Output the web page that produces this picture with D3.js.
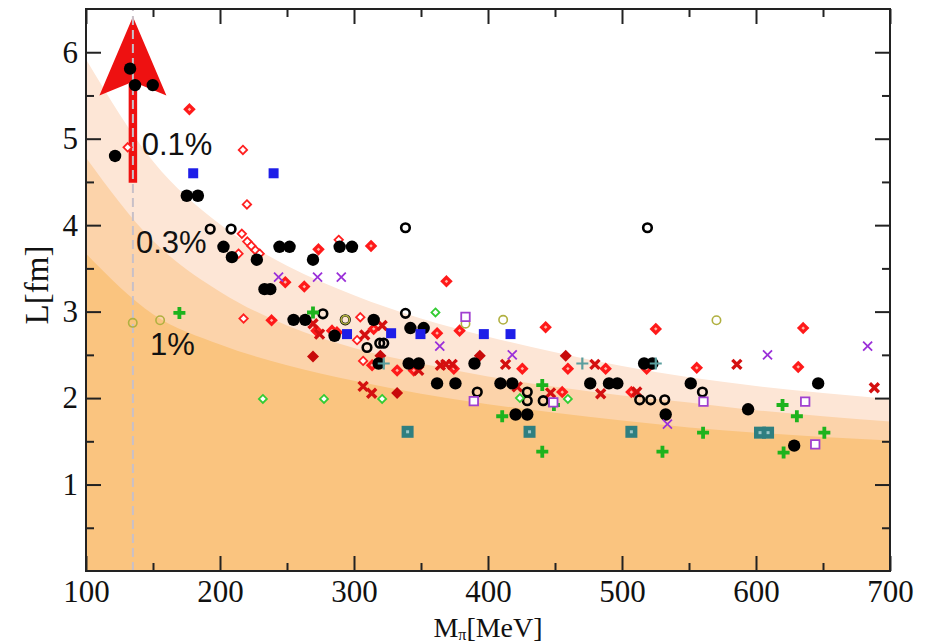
<!DOCTYPE html>
<html><head><meta charset="utf-8">
<script src="https://cdn.jsdelivr.net/npm/d3@7"></script>
<style>html,body{margin:0;padding:0;background:#fff;} svg{display:block;}</style>
</head><body>
<svg id="chart" width="930" height="644"></svg>
<script>
// ---------- axis ticks ----------
const xTicks = [100, 200, 300, 400, 500, 600, 700];
const xMinorTicks = [150, 250, 350, 450, 550, 650];
const yTicks = [1, 2, 3, 4, 5, 6];
const yMinorTicks = [0.5, 1.5, 2.5, 3.5, 4.5, 5.5];

// ---------- finite-volume bands (L in fm vs M_pi in MeV) ----------
const bandM   = [100, 150, 200, 250, 300, 350, 400, 450, 500, 550, 600, 650, 700];
const band01  = [5.92, 4.74, 4.01, 3.53, 3.19, 2.92, 2.71, 2.53, 2.37, 2.24, 2.14, 2.06, 1.99];
const band03  = [4.78, 3.82, 3.23, 2.84, 2.58, 2.40, 2.25, 2.13, 2.03, 1.95, 1.86, 1.79, 1.73];
const band1   = [3.67, 2.97, 2.62, 2.38, 2.20, 2.05, 1.93, 1.83, 1.74, 1.66, 1.60, 1.55, 1.51];
const pctLabels = ["0.1%", "0.3%", "1%"];
const pctM = [141.6, 137.3, 147.8];
const pctL = [4.81, 3.68, 2.50];

// physical pion mass marker
const physM = 135;
const arrowTail = 4.49, arrowTip = 6.41, arrowBarb = 5.50, arrowNotch = 5.66, arrowHalf = 25;

// ---------- simulation points [M_pi, L] ----------
const redThinDiamonds = [[131.1,4.90],[217.1,4.87],[220.1,4.24],[216.3,3.90],[220.4,3.81],[223.4,3.76],[226.4,3.71],[229.6,3.67],[213.8,3.67],[217.6,2.92],[288.6,3.83],[304.7,2.935],[302.3,2.67],[306.8,2.43]];
const redThickDiamonds = [[177.2,5.34],[248.7,3.34],[262.9,3.29],[238.5,2.90],[273.5,3.72],[312.7,3.76],[369,3.35],[362,2.75],[378.8,2.78],[443,2.82],[332.2,2.32],[344.6,2.32],[374.5,2.34],[425.6,2.34],[459.6,2.34],[487.8,2.34],[525.2,2.80],[555.8,2.35],[635.2,2.81],[631.5,2.36],[507,2.07],[455.4,2.07],[518.4,2.34],[272,2.78],[283.6,2.78],[287.3,2.76],[314.7,2.80],[313.5,2.38]];
const darkRedDiamonds = [[269.4,2.48],[332.2,2.06],[319.7,2.49],[393.9,2.49],[458,2.49]];
const darkRedCrosses = [[269.4,2.86],[274.3,2.74],[308,2.73],[321,2.84],[306.8,2.135],[313.2,2.055],[348.3,2.32],[364.5,2.38],[368.5,2.39],[373.3,2.39],[413.1,2.39],[421.8,2.13],[446.7,2.06],[484.1,2.05],[479.8,2.39],[511,2.07],[585.7,2.39],[688.3,2.12]];
const blackFilled = [[121.7,4.80],[132.9,5.81],[136.6,5.62],[149.8,5.62],[175.2,4.34],[183.5,4.34],[202.6,3.75],[208.9,3.63],[227.5,3.60],[244.4,3.75],[251.9,3.75],[269.4,3.60],[289.3,3.75],[298.5,3.75],[233.2,3.26],[237.5,3.26],[254.9,2.905],[263.6,2.905],[285.5,2.72],[314.7,2.905],[318.4,2.40],[340.8,2.40],[348.3,2.40],[362,2.17],[375.7,2.17],[342.1,2.81],[352,2.81],[389.9,2.40],[409.3,2.17],[418.1,2.17],[420.6,1.81],[429.3,1.81],[476.3,2.17],[490.3,2.17],[496.5,2.17],[516.5,2.40],[522.7,2.40],[532.6,1.81],[551.3,2.17],[594.1,1.87],[646.4,2.17],[628.5,1.45]];
const blackOpen = [[192.7,3.955],[208.3,3.955],[276.8,2.975],[293.5,2.905],[309.7,2.585],[319.2,2.635],[322.2,2.635],[338.4,3.97],[338.4,2.98],[392,2.07],[429.3,2.07],[429.3,1.97],[441.2,1.97],[519,3.97],[513.2,1.98],[521.4,1.98],[531.9,1.98],[560,2.07]];
const oliveOpen = [[134.9,2.87],[155.3,2.90],[293.5,2.905],[411.3,2.905],[570.5,2.90],[383.2,2.86]];
const blueSquares = [[180,4.60],[240,4.60],[294.8,2.74],[327.7,2.75],[349.6,2.74],[396.9,2.74],[416.8,2.74]];
const tealSquares = [[340,1.61],[431,1.61],[507,1.61],[603,1.60],[609,1.60]];
const greenDiamonds = [[232,1.99],[277.6,1.99],[321,1.99],[360.8,2.99],[423.8,2.0],[459.6,1.99]];
const greenPlus = [[169.7,2.985],[269.4,2.99],[440.5,2.15],[410.6,1.79],[440.5,1.38],[449.2,1.92],[530.2,1.38],[560.5,1.60],[619.8,1.92],[630.5,1.79],[620.6,1.37],[651,1.60]];
const purpleSquares = [[383.2,2.94],[389.4,1.965],[448.7,1.95],[560.8,1.96],[636.7,1.96],[644.2,1.465]];
const purpleCrosses = [[243.7,3.40],[272.8,3.40],[290.5,3.40],[364,2.60],[418.1,2.50],[608.6,2.50],[683.3,2.60],[533.9,1.70]];
const tealPlus = [[322.2,2.40],[470.4,2.40],[525.2,2.40]];

// ---------- drawing ----------
const svg = d3.select("#chart");
const x = d3.scaleLinear().domain([100, 700]).range([86, 890]);
const y = d3.scaleLinear().domain([0, 6.5]).range([571, 9]);
const serif = "'Liberation Serif','Times New Roman',serif";
const sans = "'Liberation Sans',Arial,Helvetica,sans-serif";

svg.append("defs").append("clipPath").attr("id", "plotclip")
  .append("rect").attr("x", 86).attr("y", 9).attr("width", 804).attr("height", 562);

const plot = svg.append("g").attr("clip-path", "url(#plotclip)");

const area = d3.area().x(d => x(d[0])).y0(y(0)).y1(d => y(d[1])).curve(d3.curveMonotoneX);
const bands = [[band01, "#FDE6D6"], [band03, "#FCD3AA"], [band1, "#FAC47F"]];
bands.forEach(([vals, col]) => {
  plot.append("path").datum(bandM.map((m, i) => [m, vals[i]]))
    .attr("d", area).attr("fill", col);
});

// arrow
const ax = x(physM);
const headPx = x(physM + arrowHalf) - ax;
plot.append("line").attr("x1", ax).attr("x2", ax)
  .attr("y1", y(arrowTail)).attr("y2", y(arrowNotch) + 2)
  .attr("stroke", "#ee1111").attr("stroke-width", 8.5);
plot.append("path")
  .attr("d", `M${ax},${y(arrowTip)}L${ax + headPx},${y(arrowBarb)}L${ax},${y(arrowNotch)}L${ax - headPx},${y(arrowBarb)}Z`)
  .attr("fill", "#ee1111");

// dashed physical point line
plot.append("line").attr("x1", ax).attr("x2", ax).attr("y1", y(0)).attr("y2", y(6.5))
  .attr("stroke", "#c8c0c8").attr("stroke-width", 2).attr("stroke-dasharray", "9,5");

// percent labels
pctLabels.forEach((t, i) => {
  svg.append("text").attr("x", x(pctM[i])).attr("y", y(pctL[i]))
    .attr("font-family", sans).attr("font-size", 31).attr("fill", "#111").text(t);
});

// marker helpers
const diamond = h => `M0,${-h}L${h},0L0,${h}L${-h},0Z`;
const xcross = h => `M${-h},${-h}L${h},${h}M${-h},${h}L${h},${-h}`;
const plus = h => `M${-h},0H${h}M0,${-h}V${h}`;
const square = s => `M${-s/2},${-s/2}h${s}v${s}h${-s}Z`;
const circle = r => `M${-r},0a${r},${r} 0 1,0 ${2*r},0a${r},${r} 0 1,0 ${-2*r},0Z`;

function series(data, d, style) {
  const g = plot.append("g");
  g.selectAll("path").data(data).join("path")
    .attr("transform", p => `translate(${x(p[0])},${y(p[1])})`)
    .attr("d", d)
    .attr("fill", style.fill || "none")
    .attr("stroke", style.stroke || "none")
    .attr("stroke-width", style.sw || 0)
    .attr("stroke-linejoin", "miter");
  return g;
}

series(redThinDiamonds, diamond(4.2), {fill: "#fff", stroke: "#ff2020", sw: 1.8});
series(redThickDiamonds, diamond(4), {fill: "#ffb8a8", stroke: "#ff1a1a", sw: 3.2});
series(darkRedDiamonds, diamond(6), {fill: "#c80a0a"});
series(darkRedCrosses, xcross(4.5), {stroke: "#d41010", sw: 3.4});
series(blackFilled, circle(6.2), {fill: "#000"});
series(blackOpen, circle(4.3), {stroke: "#000", sw: 2.6});
series(oliveOpen, circle(4.2), {stroke: "#b0b040", sw: 1.6});
series(blueSquares, square(10), {fill: "#1e1ee8"});
series(tealSquares, square(12), {fill: "#2f7f80"});
series(tealSquares, square(3), {fill: "#9cc8c8"});
series(greenDiamonds, diamond(4), {fill: "#fff", stroke: "#33cc33", sw: 1.8});
series(greenPlus, plus(6), {stroke: "#1db31d", sw: 3.8});
series(purpleSquares, square(8.5), {fill: "#fff", stroke: "#a040d0", sw: 1.8});
series(purpleCrosses, xcross(4.5), {stroke: "#9b30d9", sw: 1.8});
series(tealPlus, plus(6), {stroke: "#5a9e9e", sw: 2.2});

// axes
function styleAxis(g) {
  g.select(".domain").remove();
  g.selectAll(".tick line").attr("stroke", "#222").attr("stroke-width", 2);
  g.selectAll("text").attr("font-family", serif).attr("font-size", 31).attr("fill", "#111");
}
svg.append("g").attr("transform", `translate(0,${y(0)})`)
  .call(d3.axisBottom(x).tickValues(xTicks).tickSize(-15).tickPadding(9).tickFormat(d3.format("d"))).call(styleAxis);
svg.append("g").attr("transform", `translate(0,${y(0)})`)
  .call(d3.axisBottom(x).tickValues(xMinorTicks).tickSize(-8).tickFormat("")).call(styleAxis);
svg.append("g").attr("transform", `translate(0,${y(6.5)})`)
  .call(d3.axisTop(x).tickValues(xTicks).tickSize(-15).tickFormat("")).call(styleAxis);
svg.append("g").attr("transform", `translate(0,${y(6.5)})`)
  .call(d3.axisTop(x).tickValues(xMinorTicks).tickSize(-8).tickFormat("")).call(styleAxis);
svg.append("g").attr("transform", `translate(${x(100)},0)`)
  .call(d3.axisLeft(y).tickValues(yTicks).tickSize(-15).tickPadding(8).tickFormat(d3.format("d"))).call(styleAxis);
svg.append("g").attr("transform", `translate(${x(100)},0)`)
  .call(d3.axisLeft(y).tickValues(yMinorTicks).tickSize(-8).tickFormat("")).call(styleAxis);
svg.append("g").attr("transform", `translate(${x(700)},0)`)
  .call(d3.axisRight(y).tickValues(yTicks).tickSize(-15).tickFormat("")).call(styleAxis);
svg.append("g").attr("transform", `translate(${x(700)},0)`)
  .call(d3.axisRight(y).tickValues(yMinorTicks).tickSize(-8).tickFormat("")).call(styleAxis);

// frame
svg.append("rect").attr("x", x(100)).attr("y", y(6.5))
  .attr("width", x(700) - x(100)).attr("height", y(0) - y(6.5))
  .attr("fill", "none").attr("stroke", "#222").attr("stroke-width", 2);

// axis titles
const xt = svg.append("text").attr("x", (x(100) + x(700)) / 2).attr("y", 637)
  .attr("text-anchor", "middle").attr("font-family", serif).attr("font-size", 28).attr("fill", "#111");
xt.append("tspan").text("M");
xt.append("tspan").attr("font-size", 16).attr("dy", 3).text("π");
xt.append("tspan").attr("dy", -3).text("[MeV]");

svg.append("text").attr("transform", `translate(48,285) rotate(-90)`)
  .attr("text-anchor", "middle").attr("font-family", serif).attr("font-size", 33).attr("fill", "#111")
  .text("L[fm]");
</script>
</body></html>
